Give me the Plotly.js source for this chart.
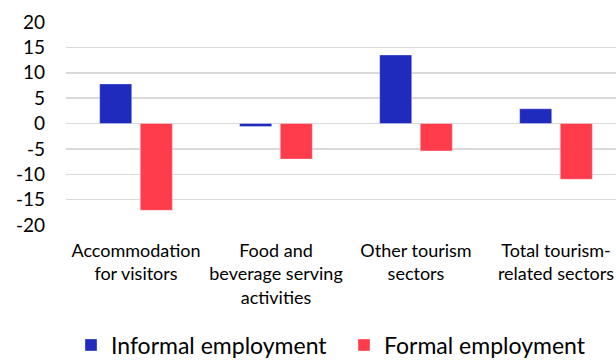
<!DOCTYPE html>
<html><head><meta charset="utf-8">
<script src="https://cdn.plot.ly/plotly-3.0.1.min.js"></script>
<style>html,body{margin:0;padding:0;background:#fff}</style>
</head><body>
<div id="chart" style="width:616px;height:360px"></div>
<script>
const categories = ["Accommodation<br>for visitors", "Food and<br>beverage serving<br>activities", "Other tourism<br>sectors", "Total tourism-<br>related sectors"];
const informal = [7.8, -0.6, 13.5, 2.9];
const formal = [-17.1, -7.0, -5.4, -11.0];
const yTicks = [-20, -15, -10, -5, 0, 5, 10, 15, 20];

const font = "Lato, 'Open Sans', sans-serif";
const data = [
  {type: 'bar', name: 'Informal employment', x: categories, y: informal,
   marker: {color: '#1f2bbd', line: {width: 1, color: 'rgba(255,255,255,0.35)'}}, hoverinfo: 'skip'},
  {type: 'bar', name: 'Formal employment', x: categories, y: formal,
   marker: {color: '#fe3c4c', line: {width: 1, color: 'rgba(255,255,255,0.35)'}}, hoverinfo: 'skip'}
];
const layout = {
  width: 616, height: 360,
  margin: {l: 66, r: 0, t: 21.5, b: 135, pad: 0},
  paper_bgcolor: '#fff', plot_bgcolor: '#fff',
  font: {family: font, color: '#000'},
  barmode: 'group', bargap: 0.42, bargroupgap: 0.21,
  showlegend: true,
  legend: {orientation: 'h', xref: 'container', yref: 'container', x: 71 / 616, y: 15 / 360,
           xanchor: 'left', yanchor: 'middle', font: {size: 23, family: font, color: '#000'},
           entrywidth: 228, entrywidthmode: 'pixels', traceorder: 'normal'},
  xaxis: {type: 'category', range: [-0.5, 3.4286], showgrid: false, zeroline: false, showline: false,
          tickfont: {size: 18, family: font, color: '#000'}, ticklabelstandoff: 13, tickangle: 0, fixedrange: true},
  yaxis: {range: [-20, 20], tickvals: yTicks, ticktext: yTicks.map(String), showgrid: true, gridcolor: '#d9d9d9', gridwidth: 1.5,
          zeroline: true, zerolinecolor: '#d9d9d9', zerolinewidth: 1.5, showline: false,
          tickfont: {size: 19, family: font, color: '#000'}, ticklabelstandoff: 20, fixedrange: true}
};
Plotly.newPlot('chart', data, layout, {staticPlot: true, displayModeBar: false});
</script>
</body></html>
